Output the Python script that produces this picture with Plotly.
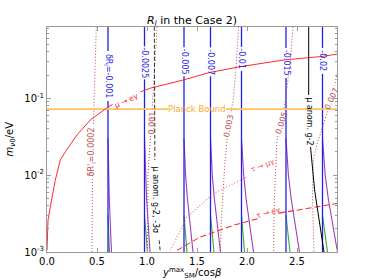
import math
import plotly.graph_objects as go

# ---------------- data ----------------
x_range = [0.0, 2.9]
y_log_range = [-3.0, -0.074]
x_tick_vals = [0.0, 0.5, 1.0, 1.5, 2.0, 2.5]
x_tick_text = ["0.0", "0.5", "1.0", "1.5", "2.0", "2.5"]
y_tick_vals = [1e-3, 1e-2, 1e-1]
y_tick_text = ["10<sup>-3</sup>", "10<sup>-2</sup>", "10<sup>-1</sup>"]
y_minor_vals = [2e-3, 3e-3, 4e-3, 5e-3, 6e-3, 7e-3, 8e-3, 9e-3,
                2e-2, 3e-2, 4e-2, 5e-2, 6e-2, 7e-2, 8e-2, 9e-2,
                2e-1, 3e-1, 4e-1, 5e-1, 6e-1, 7e-1, 8e-1]

# blue δR contours (vertical)
blue_x = [0.61, 0.975, 1.37, 1.635, 1.945, 2.39, 2.755]
blue_m_span = [0.85, 0.001]
blue_labels = ["δR<sub>l</sub>=-0.001", "-0.0025", "-0.005", "-0.007", "-0.01", "-0.015", "-0.02"]
blue_label_m = [0.195, 0.288, 0.297, 0.297, 0.325, 0.288, 0.306]
blue_label_len = [46, 29, 25, 25, 20, 26, 22]

# purple / green branches leaving the blue contours at small masses
purple_m = [0.03, 0.01, 0.005, 0.0025, 0.001]
purple_x = [
    [0.61, 0.616, 0.623, 0.632, 0.645],
    [0.975, 0.985, 0.996, 1.01, 1.03],
    [1.37, 1.386, 1.404, 1.428, 1.46],
    [1.635, 1.653, 1.673, 1.699, 1.735],
    [1.945, 1.967, 1.99, 2.022, 2.065],
    [2.39, 2.414, 2.441, 2.476, 2.525],
    [2.755, 2.782, 2.812, 2.851, 2.905],
]
green_m = [0.003, 0.002, 0.0015, 0.001]
green_x = [
    [0.61, 0.615, 0.619, 0.625],
    [0.975, 0.986, 0.993, 1.005],
    [1.37, 1.381, 1.388, 1.40],
    [1.635, 1.647, 1.656, 1.67],
    [1.945, 1.956, 1.963, 1.975],
    [2.39, 2.404, 2.414, 2.43],
    [2.755, 2.773, 2.785, 2.805],
]

# dark-red dotted contours
dot1_x = [0.493, 0.48, 0.465, 0.455, 0.45]
dot1_m = [0.85, 0.2, 0.05, 0.01, 0.001]
dot2_x = [1.10, 1.07, 1.045, 1.01, 1.003]
dot2_m = [0.85, 0.2, 0.05, 0.01, 0.001]
dot3_x = [1.915, 1.895, 1.865, 1.815, 1.78, 1.745, 1.733]
dot3_m = [0.85, 0.3, 0.1, 0.045, 0.015, 0.003, 0.001]
dot4_x = [2.46, 2.433, 2.40, 2.366, 2.30, 2.273, 2.266]
dot4_m = [0.85, 0.29, 0.14, 0.066, 0.0286, 0.0047, 0.001]
dot5_x = [2.93, 2.90, 2.80, 2.70, 2.663, 2.655, 2.67]
dot5_m = [0.3, 0.191, 0.0643, 0.025, 0.0157, 0.005, 0.001]
dot_labels = ["δR'<sub>l</sub>=0.0002", "0.001", "0.003", "0.005", "0.007"]
dot_label_x = [0.453, 1.045, 1.813, 2.343, 2.848]
dot_label_m = [0.0199, 0.0475, 0.0435, 0.0475, 0.0993]
dot_label_len = [50, 22, 22, 22, 22]
dot_label_angle = [-90, -88, -78, -72, -65]

# μ -> eγ (red solid)
mueg_x = [0.0, 0.01, 0.033, 0.083, 0.133, 0.183, 0.30, 0.433, 0.616, 0.766,
          1.033, 1.366, 1.626, 1.94, 2.383, 2.75, 2.9]
mueg_m = [0.00105, 0.00259, 0.00387, 0.0086, 0.0157, 0.0201, 0.0333, 0.0521,
          0.0776, 0.10, 0.135, 0.173, 0.216, 0.258, 0.316, 0.349, 0.375]
# τ -> μγ (red dotted)
taumug_x = [1.233, 1.40, 1.666, 2.0, 2.30, 2.633, 2.9]
taumug_m = [0.00105, 0.00286, 0.00577, 0.0095, 0.0135, 0.0182, 0.0212]
# τ -> eγ (red dashed)
taueg_x = [1.30, 1.533, 1.866, 2.30, 2.9]
taueg_m = [0.00105, 0.00157, 0.00223, 0.00317, 0.00428]

# Planck bound
planck_m = 0.072

# muon g-2 lines
g2_x = [2.617, 2.617, 2.633, 2.676, 2.77]
g2_m = [0.85, 0.1, 0.025, 0.0064, 0.001]
g2_3s_x = [1.073, 1.075, 1.08, 1.095, 1.133]
g2_3s_m = [0.85, 0.1, 0.01, 0.003, 0.001]

# ---------------- helpers (rendering only) ----------------
FIG_W, FIG_H = 374, 280
ML, MT = 47, 27
PLOT_W, PLOT_H = 290, 225
PX_PER_X = PLOT_W / (x_range[1] - x_range[0])
PX_PER_DEC = PLOT_H / (y_log_range[1] - y_log_range[0])


def with_gap(xs, ys, lo, hi, along):
    """Return polyline split (None) where key in (lo, hi)."""
    def key(p):
        return math.log10(p[1]) if along == "y" else p[0]

    def lerp(p, q, b):
        kp, kq = key(p), key(q)
        f = (b - kp) / (kq - kp)
        ly = math.log10(p[1]) + f * (math.log10(q[1]) - math.log10(p[1]))
        return (p[0] + f * (q[0] - p[0]), 10 ** ly)

    pts = list(zip(xs, ys))
    out = []
    inside = lo < key(pts[0]) < hi
    if not inside:
        out.append(pts[0])
    for q, p in zip(pts, pts[1:]):
        kq, kp = key(q), key(p)
        bs = [b for b in (lo, hi) if (b - kq) * (b - kp) < 0]
        bs.sort(key=lambda b: abs(b - kq))
        for b in bs:
            c = lerp(q, p, b)
            out.append(c)
            if not inside:
                out.append((None, None))
            inside = not inside
        if not inside:
            out.append(p)
    return [o[0] for o in out], [o[1] for o in out]


fig = go.Figure()


def add_line(xs, ys, color, width=1.0, dash="solid"):
    fig.add_trace(go.Scatter(x=xs, y=ys, mode="lines", showlegend=False,
                             hoverinfo="skip", connectgaps=False,
                             line=dict(color=color, width=width, dash=dash)))


def add_label(x, y, text, color, angle, size=8, bg=None):
    fig.add_annotation(x=x, y=math.log10(y), text=text, showarrow=False,
                       textangle=angle, font=dict(size=size, color=color),
                       bgcolor=bg, borderpad=0, xref="x", yref="y")


BLUE = "#1f1fe8"
PURPLE = "#a03cb4"
GREEN = "#3aa83a"
DRED = "#b84a4a"
RED = "#ff2a2a"
ORANGE = "#ffc060"
FINE_DOT = "1px,2px"

# purple & green branches
for px in purple_x:
    add_line(px, purple_m, PURPLE, 1.1)
for gx in green_x:
    add_line(gx, green_m, GREEN, 1.1)

# blue contours with label gaps
for bx, lab, lm, ll in zip(blue_x, blue_labels, blue_label_m, blue_label_len):
    half = (ll / 2 + 2) / PX_PER_DEC
    c = math.log10(lm)
    xs, ys = with_gap([bx, bx], blue_m_span, c - half, c + half, "y")
    add_line(xs, ys, BLUE, 1.3)
    add_label(bx, lm, lab, BLUE, 90, 8)

# dark red dotted contours
dots = [(dot1_x, dot1_m), (dot2_x, dot2_m), (dot3_x, dot3_m), (dot4_x, dot4_m), (dot5_x, dot5_m)]
for (dx, dm), lab, lx, lm, ll, ang in zip(dots, dot_labels, dot_label_x, dot_label_m,
                                         dot_label_len, dot_label_angle):
    half = (ll / 2 + 2) / PX_PER_DEC
    c = math.log10(lm)
    xs, ys = with_gap(dx, dm, c - half, c + half, "y")
    add_line(xs, ys, DRED, 1.0, FINE_DOT)
    add_label(lx, lm, lab, DRED, ang, 8)

# Planck bound
xs, ys = with_gap([x_range[0], x_range[1]], [planck_m, planck_m], 1.21, 1.79, "x")
add_line(xs, ys, ORANGE, 1.8)
add_label(1.50, planck_m, "Planck Bound", "#ffaa22", 0, 8.5)

# red LFV curves
xs, ys = with_gap(mueg_x, mueg_m, 0.655, 0.935, "x")
add_line(xs, ys, RED, 1.0)
add_label(0.795, 0.092, "μ → eγ", RED, -24, 7.5)

xs, ys = with_gap(taumug_x, taumug_m, 2.01, 2.30, "x")
add_line(xs, ys, "#ff6a6a", 1.1, FINE_DOT)
add_label(2.155, 0.0135, "τ → μγ", "#ff5050", -21, 7.5)

xs, ys = with_gap(taueg_x, taueg_m, 2.11, 2.32, "x")
add_line(xs, ys, RED, 1.1, "6px,3px")
add_label(2.215, 0.00324, "τ → eγ", RED, -15, 7.5)

# g-2 lines
half = 26 / PX_PER_DEC
c = math.log10(0.0506)
xs, ys = with_gap(g2_x, g2_m, c - half, c + half, "y")
add_line(xs, ys, "black", 1.0)
add_label(2.618, 0.0506, "μ anom. g-2", "black", 90, 8)

lo, hi = math.log10(0.00142), math.log10(0.0157)
xs, ys = with_gap(g2_3s_x, g2_3s_m, lo, hi, "y")
add_line(xs, ys, "#333333", 1.0, "4px,2px")
add_label(1.088, 0.0047, "μ anom. g-2, -3σ", "black", 90, 8)

AX = "#9a9a9a"
fig.update_layout(
    width=FIG_W, height=FIG_H,
    margin=dict(l=ML, r=FIG_W - ML - PLOT_W, t=MT, b=FIG_H - MT - PLOT_H, pad=0),
    paper_bgcolor="white", plot_bgcolor="white",
    font=dict(family="DejaVu Sans", size=10, color="black"),
    title=dict(text="<i>R</i><sub><i>l</i></sub> in the Case 2)", x=(ML + PLOT_W / 2) / FIG_W,
               xanchor="center", y=1 - 20 / FIG_H, yanchor="middle", font=dict(size=11)),
    xaxis=dict(range=x_range, tickvals=x_tick_vals, ticktext=x_tick_text,
               ticks="inside", ticklen=4, tickcolor=AX, showline=True, linecolor=AX,
               linewidth=1, mirror="ticks", showgrid=False, zeroline=False,
               tickfont=dict(size=10)),
    yaxis=dict(type="log", range=y_log_range, tickvals=y_tick_vals, ticktext=y_tick_text,
               ticks="inside", ticklen=4, tickcolor=AX, showline=True, linecolor=AX,
               linewidth=1, mirror="ticks", showgrid=False, zeroline=False,
               tickfont=dict(size=10),
               minor=dict(tickvals=y_minor_vals, ticks="inside", ticklen=2,
                          tickcolor=AX, showgrid=False)),
)

fig.add_annotation(x=0.5, y=-21 / PLOT_H, xref="paper", yref="paper", showarrow=False,
                   text="<i>y</i><sup>max</sup><sub>SM</sub>/cos<i>β</i>",
                   font=dict(size=10), yanchor="middle")
fig.add_annotation(x=-37 / PLOT_W, y=0.5, xref="paper", yref="paper", showarrow=False,
                   text="<i>m</i><sub><i>ν</i>0</sub>/eV", textangle=-90,
                   font=dict(size=10), xanchor="center")

# remove the default 8px page margin so the figure sits at the window origin
fig.write_html("out.html", config={"displayModeBar": False, "staticPlot": True},
               post_script="document.body.style.margin='0px';")
